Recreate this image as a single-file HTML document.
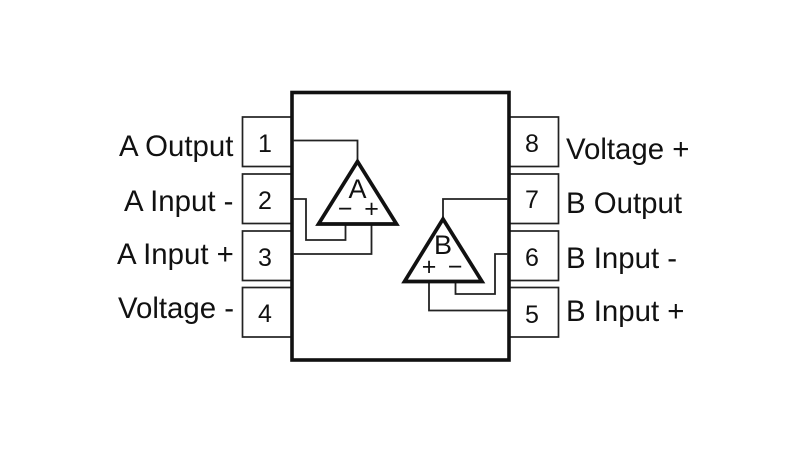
<!DOCTYPE html>
<html><head><meta charset="utf-8"><style>
html,body{margin:0;padding:0;background:#fff;width:800px;height:450px;overflow:hidden}
svg{display:block}
text{font-family:"Liberation Sans",sans-serif;fill:#111}
.l{font-size:29.4px}
.n{font-size:25px;text-anchor:middle}
.a{font-size:27px;text-anchor:middle}
.s{font-size:25px;text-anchor:middle}
</style></head><body>
<svg width="800" height="450" viewBox="0 0 800 450" xmlns="http://www.w3.org/2000/svg">
<rect width="800" height="450" fill="#fff"/>
<g fill="#fff" stroke="#222" stroke-width="1.7">
<rect x="242.5" y="117" width="50" height="49.5"/>
<rect x="242.5" y="174" width="50" height="49.5"/>
<rect x="242.5" y="231" width="50" height="49.5"/>
<rect x="242.5" y="287.5" width="50" height="49.5"/>
<rect x="509" y="117" width="49.5" height="49.5"/>
<rect x="509" y="174" width="49.5" height="49.5"/>
<rect x="509" y="231" width="49.5" height="49.5"/>
<rect x="509" y="287.5" width="49.5" height="49.5"/>
</g>
<rect x="292" y="92.5" width="217" height="267.5" fill="#fff" stroke="#111" stroke-width="3.6"/>
<g fill="none" stroke="#222" stroke-width="1.8">
<path d="M293 140.5H357.5V160"/>
<path d="M293 199H306V240H345.5V224"/>
<path d="M293 254H371.5V224"/>
<path d="M508 199H443V217"/>
<path d="M508 254H495V294H455.5V281"/>
<path d="M508 310.5H429V281"/>
</g>
<g fill="none" stroke="#111" stroke-width="3.7" stroke-linejoin="miter">
<polygon points="357.5,161.5 396.5,224 318.5,224"/>
<polygon points="443,219 482,281.5 404.5,281.5"/>
</g>
<g>
<text class="l" x="119" y="156">A Output</text>
<text class="l" x="124" y="211">A Input -</text>
<text class="l" x="117" y="264">A Input +</text>
<text class="l" x="118" y="318">Voltage -</text>
<text class="l" x="566" y="159">Voltage +</text>
<text class="l" x="566" y="213">B Output</text>
<text class="l" x="566" y="268">B Input -</text>
<text class="l" x="566" y="321">B Input +</text>
<text class="n" x="265" y="152">1</text>
<text class="n" x="265" y="209">2</text>
<text class="n" x="265" y="266">3</text>
<text class="n" x="265" y="322">4</text>
<text class="n" x="532" y="152">8</text>
<text class="n" x="532" y="208">7</text>
<text class="n" x="532" y="266">6</text>
<text class="n" x="532" y="323">5</text>
<text class="a" x="357.5" y="198">A</text>
<text class="a" x="443" y="254">B</text>
<text class="s" x="345" y="217">−</text>
<text class="s" x="371.5" y="217">+</text>
<text class="s" x="429" y="275">+</text>
<text class="s" x="455" y="275">−</text>
</g>
</svg>
</body></html>
